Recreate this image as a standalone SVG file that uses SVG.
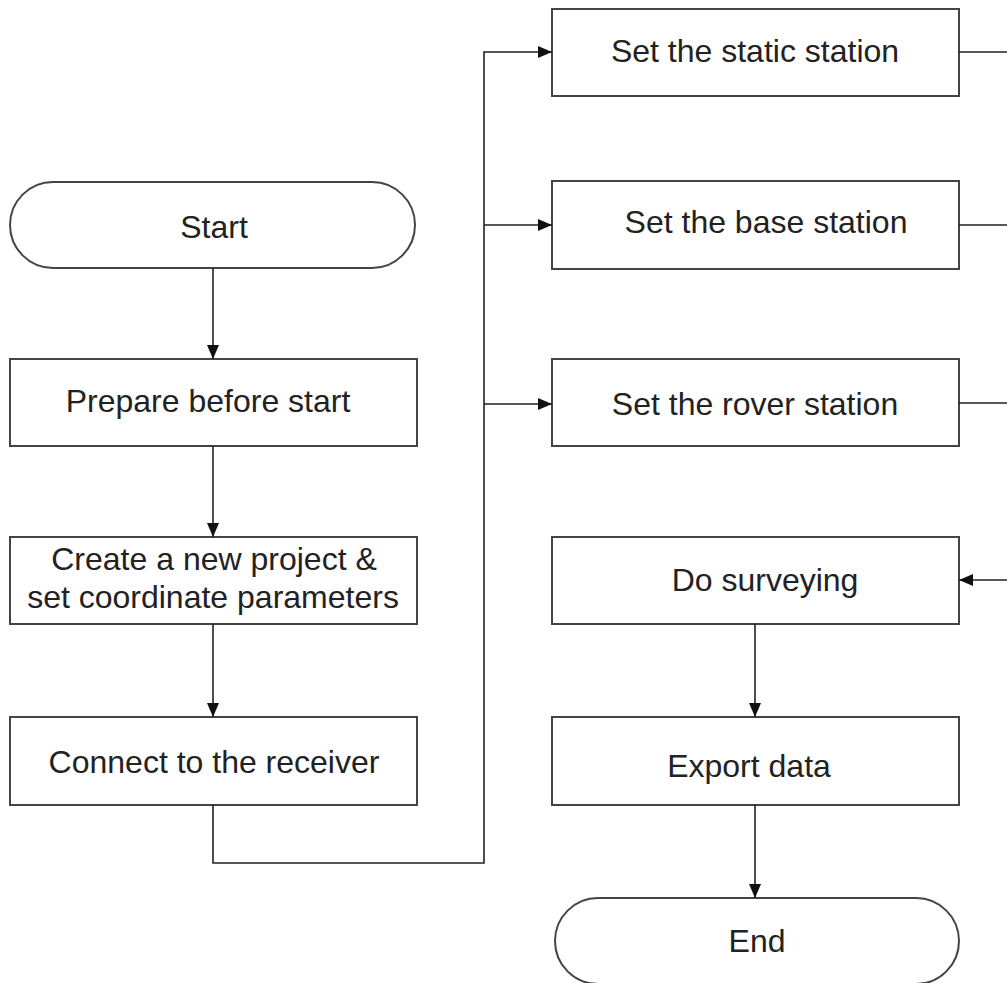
<svg xmlns="http://www.w3.org/2000/svg" width="1007" height="983" viewBox="0 0 1007 983">
<defs>
<marker id="ah" markerWidth="14" markerHeight="12" refX="14" refY="6" orient="auto" markerUnits="userSpaceOnUse">
<path d="M0,0 L14,6 L0,12 Z" fill="#111"/>
</marker>
<style>
.box{fill:#fff;stroke:#444;stroke-width:2}
.t{font-family:"Liberation Sans",Arial,sans-serif;font-size:32px;fill:#222;text-anchor:middle}
.c{fill:none;stroke:#222;stroke-width:1.6}
</style>
</defs>
<rect width="1007" height="983" fill="#fff"/>
<g id="start"><rect class="box" x="10" y="182" width="405" height="86" rx="43" ry="43"/><text class="t" x="214" y="238">Start</text></g>
<g id="prepare"><rect class="box" x="10" y="359" width="407" height="87"/><text class="t" x="208" y="412">Prepare before start</text></g>
<g id="create"><rect class="box" x="10" y="537" width="407" height="87"/><text class="t" x="214" y="570">Create a new project &amp;</text><text class="t" x="213" y="608">set coordinate parameters</text></g>
<g id="connect"><rect class="box" x="10" y="717" width="407" height="88"/><text class="t" x="214" y="773">Connect to the receiver</text></g>
<g id="static"><rect class="box" x="552" y="9" width="407" height="87"/><text class="t" x="755" y="62">Set the static station</text></g>
<g id="base"><rect class="box" x="552" y="181" width="407" height="88"/><text class="t" x="766" y="233">Set the base station</text></g>
<g id="rover"><rect class="box" x="552" y="359" width="407" height="87"/><text class="t" x="755" y="415">Set the rover station</text></g>
<g id="survey"><rect class="box" x="552" y="537" width="407" height="87"/><text class="t" x="765" y="591">Do surveying</text></g>
<g id="export"><rect class="box" x="552" y="717" width="407" height="88"/><text class="t" x="749" y="777">Export data</text></g>
<g id="end"><rect class="box" x="555" y="898" width="404" height="86" rx="43" ry="43"/><text class="t" x="757" y="952">End</text></g>
<g id="connectors">
<line class="c" x1="213" y1="268" x2="213" y2="359" marker-end="url(#ah)"/>
<line class="c" x1="213" y1="446" x2="213" y2="537" marker-end="url(#ah)"/>
<line class="c" x1="213" y1="624" x2="213" y2="717" marker-end="url(#ah)"/>
<polyline class="c" points="213,805 213,863 484,863 484,52 552,52" marker-end="url(#ah)"/>
<line class="c" x1="484" y1="225" x2="552" y2="225" marker-end="url(#ah)"/>
<line class="c" x1="484" y1="404" x2="552" y2="404" marker-end="url(#ah)"/>
<line class="c" x1="959" y1="52" x2="1007" y2="52"/>
<line class="c" x1="959" y1="225" x2="1007" y2="225"/>
<line class="c" x1="959" y1="403" x2="1007" y2="403"/>
<line class="c" x1="1007" y1="580" x2="959" y2="580" marker-end="url(#ah)"/>
<line class="c" x1="755" y1="624" x2="755" y2="717" marker-end="url(#ah)"/>
<line class="c" x1="755" y1="805" x2="755" y2="898" marker-end="url(#ah)"/>
</g>
</svg>
